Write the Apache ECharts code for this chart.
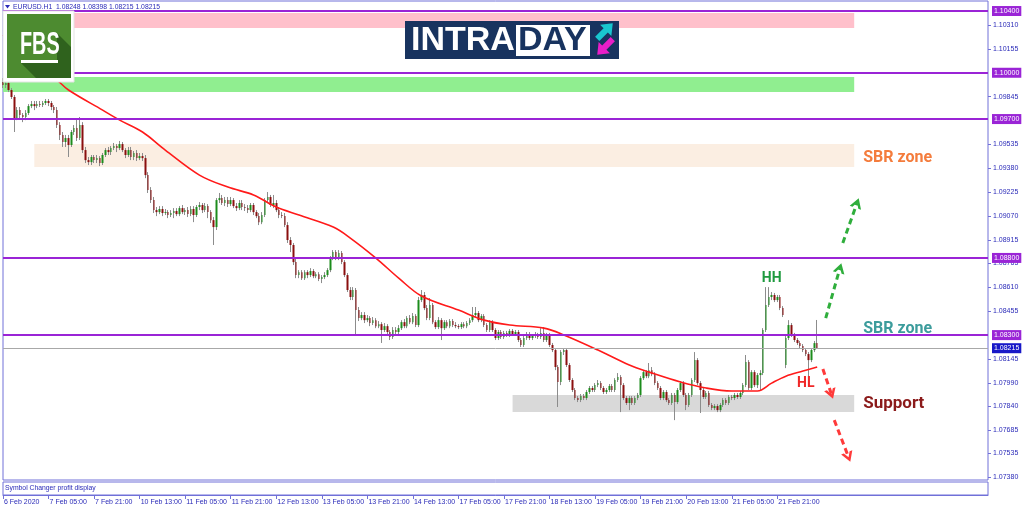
<!DOCTYPE html>
<html><head><meta charset="utf-8">
<script src="https://cdn.jsdelivr.net/npm/echarts@6/dist/echarts.min.js"></script>
<style>html,body{margin:0;padding:0;background:#fff}#c{width:1024px;height:511px}</style>
</head><body><div id="c"></div>
<script>
// ---- DATA (EURUSD H1) ----
const open = [1.09940,1.09921,1.09934,1.09888,1.09843,1.09706,1.09758,1.09726,1.09713,1.09739,
1.09784,1.09797,1.09784,1.09797,1.09791,1.09804,1.09817,1.09804,1.09778,1.09758,
1.09661,1.09597,1.09551,1.09577,1.09532,1.09616,1.09642,1.09577,1.09661,1.09499,
1.09434,1.09421,1.09454,1.09434,1.09447,1.09415,1.09467,1.09499,1.09486,1.09512,
1.09525,1.09512,1.09538,1.09499,1.09467,1.09499,1.09454,1.09480,1.09447,1.09460,
1.09447,1.09337,1.09240,1.09175,1.09110,1.09097,1.09117,1.09091,1.09097,1.09078,
1.09091,1.09104,1.09084,1.09123,1.09097,1.09110,1.09084,1.09117,1.09078,1.09130,
1.09143,1.09110,1.09136,1.09097,1.09045,1.09000,1.09175,1.09188,1.09156,1.09175,
1.09149,1.09175,1.09136,1.09123,1.09156,1.09130,1.09123,1.09110,1.09143,1.09097,
1.09071,1.09032,1.09078,1.09175,1.09195,1.09143,1.09156,1.09110,1.09078,1.09071,
1.09013,1.08916,1.08884,1.08773,1.08689,1.08708,1.08669,1.08708,1.08689,1.08715,
1.08682,1.08695,1.08663,1.08676,1.08689,1.08721,1.08799,1.08838,1.08799,1.08832,
1.08773,1.08689,1.08592,1.08547,1.08592,1.08462,1.08410,1.08430,1.08397,1.08410,
1.08378,1.08397,1.08358,1.08371,1.08333,1.08358,1.08320,1.08288,1.08333,1.08320,
1.08345,1.08384,1.08358,1.08410,1.08384,1.08423,1.08365,1.08527,1.08560,1.08475,
1.08410,1.08495,1.08384,1.08352,1.08397,1.08345,1.08384,1.08358,1.08391,1.08365,
1.08358,1.08352,1.08371,1.08358,1.08378,1.08397,1.08430,1.08443,1.08397,1.08423,
1.08365,1.08333,1.08384,1.08333,1.08281,1.08320,1.08288,1.08314,1.08301,1.08327,
1.08307,1.08320,1.08268,1.08236,1.08281,1.08307,1.08281,1.08294,1.08301,1.08288,
1.08314,1.08268,1.08301,1.08236,1.08203,1.08093,1.07996,1.08190,1.08203,1.08106,
1.08009,1.07944,1.07892,1.07879,1.07905,1.07892,1.07931,1.07957,1.07944,1.07976,
1.07989,1.07957,1.07931,1.07944,1.07970,1.07944,1.08009,1.08028,1.07976,1.07892,
1.07860,1.07892,1.07860,1.07892,1.07912,1.08021,1.08060,1.08034,1.08073,1.08047,
1.07989,1.07957,1.07892,1.07931,1.07879,1.07860,1.07912,1.07866,1.07944,1.07989,
1.07912,1.07847,1.07912,1.08009,1.08138,1.07989,1.07944,1.07899,1.07925,1.07847,
1.07827,1.07840,1.07814,1.07847,1.07879,1.07860,1.07899,1.07892,1.07912,1.07899,
1.07925,1.07976,1.08125,1.07957,1.08060,1.07976,1.08041,1.08054,1.08333,1.08495,
1.08547,1.08560,1.08527,1.08547,1.08475,1.08106,1.08281,1.08365,1.08301,1.08268,
1.08249,1.08229,1.08203,1.08177,1.08138,1.08203,1.08248];
const close = [1.09921,1.09934,1.09888,1.09843,1.09706,1.09758,1.09726,1.09713,1.09739,1.09784,
1.09797,1.09784,1.09797,1.09791,1.09804,1.09817,1.09804,1.09778,1.09758,1.09661,
1.09597,1.09551,1.09577,1.09532,1.09616,1.09642,1.09577,1.09661,1.09499,1.09434,
1.09421,1.09454,1.09434,1.09447,1.09415,1.09467,1.09499,1.09486,1.09512,1.09525,
1.09512,1.09538,1.09499,1.09467,1.09499,1.09454,1.09480,1.09447,1.09460,1.09447,
1.09337,1.09240,1.09175,1.09110,1.09097,1.09117,1.09091,1.09097,1.09078,1.09091,
1.09104,1.09084,1.09123,1.09097,1.09110,1.09084,1.09117,1.09078,1.09130,1.09143,
1.09110,1.09136,1.09097,1.09045,1.09000,1.09175,1.09188,1.09156,1.09175,1.09149,
1.09175,1.09136,1.09123,1.09156,1.09130,1.09123,1.09110,1.09143,1.09097,1.09071,
1.09032,1.09078,1.09175,1.09195,1.09143,1.09156,1.09110,1.09078,1.09071,1.09013,
1.08916,1.08884,1.08773,1.08689,1.08708,1.08669,1.08708,1.08689,1.08715,1.08682,
1.08695,1.08663,1.08676,1.08689,1.08721,1.08799,1.08838,1.08799,1.08832,1.08773,
1.08689,1.08592,1.08547,1.08592,1.08462,1.08410,1.08430,1.08397,1.08410,1.08378,
1.08397,1.08358,1.08371,1.08333,1.08358,1.08320,1.08288,1.08333,1.08320,1.08345,
1.08384,1.08358,1.08410,1.08384,1.08423,1.08365,1.08527,1.08560,1.08475,1.08410,
1.08495,1.08384,1.08352,1.08397,1.08345,1.08384,1.08358,1.08391,1.08365,1.08358,
1.08352,1.08371,1.08358,1.08378,1.08397,1.08430,1.08443,1.08397,1.08423,1.08365,
1.08333,1.08384,1.08333,1.08281,1.08320,1.08288,1.08314,1.08301,1.08327,1.08307,
1.08320,1.08268,1.08236,1.08281,1.08307,1.08281,1.08294,1.08301,1.08288,1.08314,
1.08268,1.08301,1.08236,1.08203,1.08093,1.07996,1.08190,1.08203,1.08106,1.08009,
1.07944,1.07892,1.07879,1.07905,1.07892,1.07931,1.07957,1.07944,1.07976,1.07989,
1.07957,1.07931,1.07944,1.07970,1.07944,1.08009,1.08028,1.07976,1.07892,1.07860,
1.07892,1.07860,1.07892,1.07912,1.08021,1.08060,1.08034,1.08073,1.08047,1.07989,
1.07957,1.07892,1.07931,1.07879,1.07860,1.07912,1.07866,1.07944,1.07989,1.07912,
1.07847,1.07912,1.08009,1.08138,1.07989,1.07944,1.07899,1.07925,1.07847,1.07827,
1.07840,1.07814,1.07847,1.07879,1.07860,1.07899,1.07892,1.07912,1.07899,1.07925,
1.07976,1.08125,1.07957,1.08060,1.07976,1.08041,1.08054,1.08333,1.08495,1.08547,
1.08560,1.08527,1.08547,1.08475,1.08430,1.08281,1.08365,1.08301,1.08268,1.08249,
1.08229,1.08203,1.08177,1.08138,1.08203,1.08248,1.08215];
const high = [1.09966,1.09953,1.09966,1.09901,1.09856,1.09778,1.09778,1.09739,1.09758,1.09797,
1.09817,1.09817,1.09817,1.09817,1.09817,1.09830,1.09830,1.09817,1.09791,1.09778,
1.09680,1.09616,1.09597,1.09597,1.09629,1.09661,1.09706,1.09713,1.09680,1.09519,
1.09454,1.09467,1.09467,1.09467,1.09460,1.09480,1.09512,1.09519,1.09525,1.09545,
1.09538,1.09558,1.09551,1.09512,1.09519,1.09519,1.09493,1.09499,1.09480,1.09480,
1.09467,1.09356,1.09259,1.09195,1.09130,1.09136,1.09136,1.09117,1.09110,1.09110,
1.09123,1.09123,1.09136,1.09143,1.09123,1.09130,1.09136,1.09136,1.09143,1.09162,
1.09156,1.09156,1.09149,1.09110,1.09065,1.09188,1.09221,1.09208,1.09195,1.09195,
1.09195,1.09188,1.09156,1.09175,1.09175,1.09149,1.09143,1.09156,1.09156,1.09110,
1.09091,1.09097,1.09188,1.09227,1.09208,1.09208,1.09175,1.09130,1.09097,1.09091,
1.09032,1.08935,1.08897,1.08799,1.08721,1.08721,1.08721,1.08721,1.08734,1.08728,
1.08708,1.08708,1.08689,1.08708,1.08734,1.08812,1.08851,1.08851,1.08851,1.08845,
1.08786,1.08702,1.08611,1.08611,1.08605,1.08482,1.08449,1.08449,1.08430,1.08423,
1.08417,1.08410,1.08391,1.08384,1.08378,1.08371,1.08333,1.08352,1.08352,1.08365,
1.08397,1.08404,1.08423,1.08430,1.08443,1.08436,1.08547,1.08592,1.08579,1.08495,
1.08540,1.08508,1.08397,1.08417,1.08410,1.08397,1.08397,1.08404,1.08404,1.08384,
1.08371,1.08384,1.08384,1.08391,1.08410,1.08482,1.08482,1.08456,1.08436,1.08436,
1.08378,1.08397,1.08397,1.08345,1.08333,1.08333,1.08327,1.08327,1.08339,1.08339,
1.08333,1.08333,1.08281,1.08294,1.08320,1.08320,1.08307,1.08320,1.08314,1.08345,
1.08352,1.08314,1.08314,1.08249,1.08216,1.08106,1.08203,1.08216,1.08216,1.08119,
1.08021,1.07957,1.07905,1.07918,1.07918,1.07944,1.07970,1.07970,1.07989,1.08009,
1.08002,1.07970,1.07957,1.07983,1.07983,1.08021,1.08054,1.08041,1.07989,1.07905,
1.07905,1.07905,1.07905,1.07925,1.08034,1.08073,1.08073,1.08119,1.08093,1.08060,
1.08002,1.07970,1.07944,1.07944,1.07892,1.07925,1.07925,1.07957,1.08002,1.08002,
1.07925,1.07925,1.08021,1.08190,1.08151,1.08002,1.07957,1.07938,1.07938,1.07860,
1.07853,1.07853,1.07860,1.07892,1.07892,1.07912,1.07912,1.07925,1.07925,1.07938,
1.07989,1.08171,1.08138,1.08073,1.08073,1.08054,1.08073,1.08345,1.08611,1.08611,
1.08579,1.08573,1.08560,1.08560,1.08488,1.08294,1.08397,1.08378,1.08314,1.08281,
1.08262,1.08242,1.08216,1.08190,1.08216,1.08262,1.08398];
const low = [1.09901,1.09901,1.09875,1.09830,1.09616,1.09693,1.09706,1.09680,1.09693,1.09726,
1.09771,1.09758,1.09771,1.09778,1.09778,1.09791,1.09784,1.09758,1.09739,1.09642,
1.09564,1.09519,1.09519,1.09454,1.09519,1.09597,1.09558,1.09564,1.09480,1.09415,
1.09402,1.09402,1.09415,1.09415,1.09395,1.09402,1.09454,1.09467,1.09467,1.09499,
1.09486,1.09499,1.09486,1.09447,1.09454,1.09434,1.09434,1.09428,1.09434,1.09428,
1.09317,1.09221,1.09156,1.09091,1.09071,1.09084,1.09071,1.09078,1.09058,1.09065,
1.09058,1.09071,1.09071,1.09084,1.09078,1.09065,1.09071,1.09032,1.09065,1.09110,
1.09091,1.09097,1.09058,1.09026,1.08884,1.08981,1.09156,1.09143,1.09136,1.09130,
1.09136,1.09123,1.09104,1.09110,1.09110,1.09104,1.09091,1.09097,1.09078,1.09058,
1.09013,1.09019,1.09065,1.09156,1.09130,1.09123,1.09097,1.09058,1.09058,1.09000,
1.08897,1.08838,1.08754,1.08669,1.08669,1.08657,1.08657,1.08669,1.08676,1.08669,
1.08669,1.08650,1.08637,1.08663,1.08676,1.08708,1.08786,1.08786,1.08786,1.08760,
1.08676,1.08579,1.08527,1.08527,1.08301,1.08391,1.08397,1.08378,1.08384,1.08358,
1.08365,1.08345,1.08345,1.08249,1.08320,1.08307,1.08268,1.08275,1.08307,1.08307,
1.08333,1.08345,1.08345,1.08371,1.08371,1.08352,1.08352,1.08514,1.08462,1.08397,
1.08397,1.08371,1.08339,1.08339,1.08268,1.08333,1.08345,1.08345,1.08352,1.08345,
1.08339,1.08339,1.08345,1.08345,1.08365,1.08384,1.08417,1.08384,1.08384,1.08352,
1.08320,1.08320,1.08320,1.08268,1.08268,1.08275,1.08275,1.08288,1.08288,1.08294,
1.08294,1.08255,1.08223,1.08223,1.08268,1.08268,1.08268,1.08281,1.08275,1.08275,
1.08255,1.08255,1.08223,1.08190,1.08073,1.07834,1.07976,1.08171,1.08093,1.07996,
1.07931,1.07879,1.07866,1.07866,1.07879,1.07879,1.07918,1.07931,1.07931,1.07963,
1.07944,1.07918,1.07918,1.07931,1.07931,1.07931,1.07996,1.07801,1.07879,1.07847,
1.07814,1.07847,1.07847,1.07879,1.07899,1.08009,1.08021,1.08021,1.08034,1.07976,
1.07944,1.07879,1.07879,1.07866,1.07847,1.07847,1.07749,1.07853,1.07931,1.07899,
1.07814,1.07834,1.07899,1.07996,1.07976,1.07795,1.07886,1.07886,1.07834,1.07814,
1.07814,1.07801,1.07801,1.07834,1.07847,1.07847,1.07879,1.07879,1.07886,1.07886,
1.07912,1.07963,1.07944,1.07944,1.07963,1.07957,1.07944,1.08041,1.08320,1.08482,
1.08527,1.08514,1.08514,1.08462,1.08417,1.08086,1.08268,1.08288,1.08255,1.08236,
1.08216,1.08190,1.08164,1.08028,1.08125,1.08190,1.08215];

// moving average, read at selected bars
const maBars   = [0,19,23,35,41,49,57,69,79,88,96,104,116,122,131,139,147,160,169,178,190,197,209,220,227,238,247,256,265,270,275,281,286];
const maValues = [1.10244,1.09953,1.09888,1.09758,1.09693,1.09616,1.09499,1.09337,1.09259,1.09208,1.09130,1.09078,1.09000,1.08929,1.08799,1.08669,1.08553,1.08462,1.08397,1.08365,1.08345,1.08301,1.08203,1.08106,1.08060,1.07996,1.07957,1.07938,1.07938,1.07989,1.08034,1.08067,1.08093];

const timeLabels = ["6 Feb 2020","7 Feb 05:00","7 Feb 21:00","10 Feb 13:00","11 Feb 05:00","11 Feb 21:00","12 Feb 13:00","13 Feb 05:00","13 Feb 21:00","14 Feb 13:00","17 Feb 05:00","17 Feb 21:00","18 Feb 13:00","19 Feb 05:00","19 Feb 21:00","20 Feb 13:00","21 Feb 05:00","21 Feb 21:00"];
const priceTicks = [1.10310,1.10155,1.09845,1.09535,1.09380,1.09225,1.09070,1.08915,1.08765,1.08610,1.08455,1.08145,1.07990,1.07840,1.07685,1.07535,1.07380];
const levels = [1.10400,1.10000,1.09700,1.08800,1.08300];
const bidPrice = 1.08215;
const titleText = "EURUSD.H1  1.08248 1.08398 1.08215 1.08215";

// zones (bars from/to, price top/bottom)
const zoneFrom   = [2, 0, 11, 179];
const zoneTo     = [299, 299, 299, 299];
const zoneTop    = [1.10387, 1.09972, 1.09538, 1.07912];
const zoneBottom = [1.10290, 1.09875, 1.09389, 1.07801];

// annotation arrows: [fromBar, fromPrice, toBar, toPrice]
const arrowsUp   = [[289,1.08410,294,1.08734],[295,1.08897,300,1.09156]];
const arrowsDown = [[288,1.08080,291,1.07918],[292,1.07749,297,1.07510]];
// annotation texts
const noteTexts  = ["SBR zone","SBR zone","Support","HH","HL"];
const noteBars   = [302, 302, 302, 270, 282];
const notePrices = [1.09450, 1.08338, 1.07853, 1.08669, 1.07989];

// ---- STYLE ----
const N_CAT = 347;
const categories = Array.from({length: N_CAT}, (_, i) => String(i));
const frameColor = '#7070d8';
const textBlue = '#2a2ab8';
const purple = '#9a24d6';
const zoneColors = ['#ffc0cb', '#90ee90', '#fbeee2', '#d9d9d9'];
const noteColors = ['#f47c3c', '#3c9c9c', '#8b1a1a', '#1f9a3f', '#f02828'];
const noteSizes  = [16, 16, 17, 14, 14];
const notePos    = ['right','right','right','inside','inside'];
const chevron = 'path://M0,10 L5,0 L10,10 L7.6,10 L5,4.8 L2.4,10 Z';

const wickData = open.map((o, i) => [o, close[i], low[i], high[i]]);
const bodyData = open.map((o, i) => [o, close[i], Math.min(o, close[i]), Math.max(o, close[i])]);
const maData = maBars.map((b, i) => [b, maValues[i]]);

function arrowLines(list, color) {
  return list.map(a => [
    {coord: [a[0], a[1]], symbol: 'none', lineStyle: {color: color, width: 3, type: [6, 4]}},
    {coord: [a[2], a[3]], symbol: chevron, symbolSize: [12, 10], lineStyle: {color: color, width: 3, type: [6, 4]}, itemStyle: {color: color}}
  ]);
}

const chart = echarts.init(document.getElementById('c'), null, {renderer: 'canvas'});
const option = {
  animation: false,
  backgroundColor: '#ffffff',
  textStyle: {fontFamily: '"Liberation Sans", Arial, sans-serif'},
  grid: [
    {left: 3, right: 36, top: 1, bottom: 31, show: true, borderColor: frameColor, borderWidth: 1, backgroundColor: '#fff'},
    {left: 3, right: 36, top: 482, bottom: 16, show: true, borderColor: frameColor, borderWidth: 1, backgroundColor: '#fff'}
  ],
  xAxis: [
    {gridIndex: 0, type: 'category', data: categories, boundaryGap: false,
     axisLine: {show: false}, axisTick: {show: false}, axisLabel: {show: false}, splitLine: {show: false}},
    {gridIndex: 1, type: 'category', data: categories, boundaryGap: false, position: 'bottom',
     axisLine: {show: true, lineStyle: {color: frameColor}},
     axisTick: {show: true, length: 4, lineStyle: {color: frameColor}, interval: (i) => i % 16 === 0 && i / 16 < timeLabels.length},
     axisLabel: {show: true, interval: (i) => i % 16 === 0 && i / 16 < timeLabels.length,
       formatter: (v, i) => timeLabels[Math.round(Number(v) / 16)] || '', align: 'left', padding: [0, 0, 0, 1],
       fontSize: 7, color: textBlue, margin: 4},
     splitLine: {show: false}}
  ],
  yAxis: [
    {gridIndex: 0, type: 'value', position: 'right', min: 1.07361, max: 1.10465, scale: true,
     splitLine: {show: false}, axisLine: {show: false},
     axisTick: {show: true, customValues: priceTicks, length: 3, lineStyle: {color: frameColor}},
     axisLabel: {show: true, customValues: priceTicks, formatter: (v) => Number(v).toFixed(5), fontSize: 7, color: textBlue, margin: 5}},
    {gridIndex: 1, type: 'value', min: 0, max: 1, show: false}
  ],
  series: [
    {type: 'candlestick', name: 'wicks', xAxisIndex: 0, yAxisIndex: 0, data: wickData, barWidth: 1, z: 2,
     itemStyle: {color: '#8c8c8c', color0: '#8c8c8c', borderColor: '#8c8c8c', borderColor0: '#8c8c8c', borderWidth: 1},
     markArea: {silent: true, z: 1, data: zoneFrom.map((f, i) => [
       {xAxis: f, yAxis: zoneTop[i], itemStyle: {color: zoneColors[i]}},
       {xAxis: zoneTo[i], yAxis: zoneBottom[i]}])},
     markLine: {silent: true, precision: 5, symbol: ['none', 'none'], z: 6, data: levels.map(v => ({
       yAxis: v, lineStyle: {color: purple, width: 2, type: 'solid'},
       label: {show: true, position: 'end', distance: 4, formatter: () => v.toFixed(5), color: '#fff', backgroundColor: purple, padding: [2, 2, 1, 2], fontSize: 7}
     })).concat([{
       yAxis: bidPrice, lineStyle: {color: '#a8a8a8', width: 1, type: 'solid'},
       label: {show: true, position: 'end', distance: 4, formatter: () => bidPrice.toFixed(5), color: '#fff', backgroundColor: '#1818c8', padding: [2, 2, 1, 2], fontSize: 7}
     }])}
    },
    {type: 'candlestick', name: 'bodies', xAxisIndex: 0, yAxisIndex: 0, data: bodyData, barWidth: 2, z: 3,
     itemStyle: {color: '#1c8c1c', color0: '#8a0f0f', borderColor: '#1c8c1c', borderColor0: '#8a0f0f', borderWidth: 0}},
    {type: 'line', name: 'MA', xAxisIndex: 0, yAxisIndex: 0, data: maData, smooth: 0.35, symbol: 'none', z: 4,
     lineStyle: {color: '#ff1a1a', width: 1.6},
     markLine: {silent: true, precision: 5, z: 7, label: {show: false},
       data: arrowLines(arrowsUp, '#2fae3c').concat(arrowLines(arrowsDown, '#ff3a3a'))},
     markPoint: {silent: true, z: 8, symbol: 'rect', symbolSize: 1, itemStyle: {color: 'rgba(0,0,0,0)'},
       data: noteTexts.map((t, i) => ({
         coord: [noteBars[i], notePrices[i]],
         label: {show: true, formatter: t, position: notePos[i], distance: 0, color: noteColors[i],
           fontSize: noteSizes[i], fontWeight: 'bold', fontFamily: 'Roboto'}
       }))}
    },
    {type: 'line', xAxisIndex: 1, yAxisIndex: 1, data: [], symbol: 'none'}
  ],
  graphic: [
    // title
    {type: 'polygon', z: 100, shape: {points: [[5,5],[10,5],[7.5,8.5]]}, style: {fill: textBlue}},
    {type: 'text', z: 100, x: 13, y: 7, style: {text: titleText, font: '6.8px "Liberation Sans"', fill: textBlue, verticalAlign: 'middle', textVerticalAlign: 'middle'}},
    {type: 'text', z: 100, x: 5, y: 488, style: {text: 'Symbol Changer profit display', font: '6.8px "Liberation Sans"', fill: textBlue, verticalAlign: 'middle', textVerticalAlign: 'middle'}},
    // FBS logo
    {type: 'rect', z: 100, shape: {x: 3, y: 11, width: 71, height: 71}, style: {fill: '#ffffff', stroke: '#e4e4e4', lineWidth: 1}},
    {type: 'rect', z: 101, shape: {x: 7, y: 14, width: 64, height: 64}, style: {fill: '#4d8b30'}},
    {type: 'polygon', z: 102, shape: {points: [[57,33],[71,47],[71,78],[36,78],[21,63],[57,63]]}, style: {fill: '#2f621d'}},
    {type: 'text', z: 103, x: 20, y: 30, scaleX: 0.64, style: {text: 'FBS', font: 'bold 31px "Liberation Sans"', fill: '#ffffff', verticalAlign: 'top', textVerticalAlign: 'top'}},
    {type: 'rect', z: 103, shape: {x: 21, y: 60, width: 37, height: 3}, style: {fill: '#ffffff'}},
    // INTRADAY logo
    {type: 'rect', z: 100, shape: {x: 405, y: 21, width: 214, height: 38}, style: {fill: '#18335f'}},
    {type: 'text', z: 101, x: 411, y: 41, style: {text: 'INTRA', font: 'bold 34px "Liberation Sans"', fill: '#ffffff', verticalAlign: 'middle', textVerticalAlign: 'middle'}},
    {type: 'rect', z: 101, shape: {x: 516, y: 25, width: 74, height: 31}, style: {fill: '#ffffff'}},
    {type: 'text', z: 102, x: 518, y: 41, style: {text: 'DAY', font: 'bold 34px "Liberation Sans"', fill: '#18335f', verticalAlign: 'middle', textVerticalAlign: 'middle'}},
    {type: 'polygon', z: 102, x: 605, y: 31, rotation: Math.PI / 4,
     shape: {points: [[-11,-3],[1,-3],[1,-8],[11,0],[1,8],[1,3],[-11,3]]}, style: {fill: '#19c6cf'}},
    {type: 'polygon', z: 102, x: 605, y: 47, rotation: -3 * Math.PI / 4,
     shape: {points: [[-11,-3],[1,-3],[1,-8],[11,0],[1,8],[1,3],[-11,3]]}, style: {fill: '#e81ec8'}}
  ]
};
chart.setOption(option);
</script>
</body></html>
